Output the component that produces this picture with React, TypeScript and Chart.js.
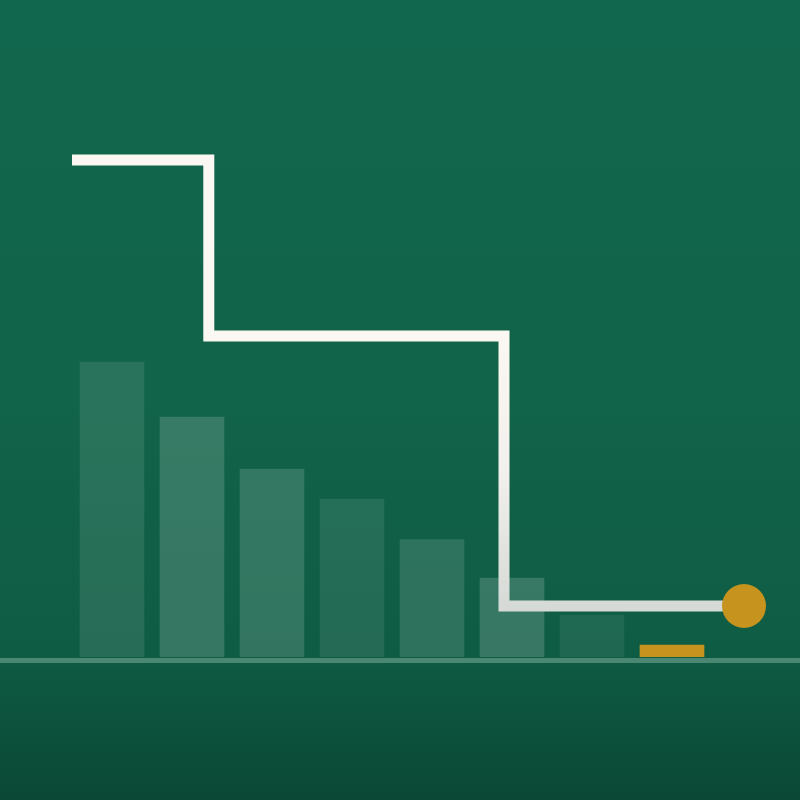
import React, { useEffect, useRef } from "react";
import { Chart, registerables } from "chart.js";

Chart.register(...registerables);

const categories = ["1", "2", "3", "4", "5", "6", "7", "8"];
const barValues = [59, 48, 37.6, 31.6, 23.5, 15.8, 8.4, 2.4];
const barAlphas = [0.1, 0.16, 0.15, 0.09, 0.13, 0.17, 0.07];
const stepX = [-0.5, 1.21, 4.9, 7.9];
const stepY = [99.4, 64.2, 10.2, 10.2];

const GOLD = "#c6931f";

const bgPlugin = {
  id: "bgPlugin",
  beforeDraw(chart: any) {
    const { ctx, width, height } = chart;
    const g = ctx.createLinearGradient(0, 0, 0, height);
    g.addColorStop(0, "#11674d");
    g.addColorStop(0.5, "#116349");
    g.addColorStop(0.82, "#0f5c44");
    g.addColorStop(0.835, "#0e5942");
    g.addColorStop(1, "#0a4835");
    ctx.save();
    ctx.fillStyle = g;
    ctx.fillRect(0, 0, width, height);
    ctx.restore();
  },
  beforeDatasetsDraw(chart: any) {
    const { ctx, width } = chart;
    const y0 = chart.scales.y.getPixelForValue(0);
    ctx.save();
    ctx.fillStyle = "#4a8873";
    ctx.fillRect(0, y0 + 1, width, 5);
    ctx.restore();
  },
};

export default function App() {
  const ref = useRef<HTMLCanvasElement>(null);
  useEffect(() => {
    if (!ref.current) return;
    const chart = new Chart(ref.current, {
      type: "bar",
      data: {
        labels: categories,
        datasets: [
          {
            type: "line",
            data: stepX.map((x, i) => ({ x, y: stepY[i] })),
            stepped: "before",
            borderWidth: 11,
            borderCapStyle: "butt",
            borderJoinStyle: "miter",
            borderColor: (c: any) => {
              const ch = c.chart;
              const ys = ch.scales && ch.scales.y;
              if (!ys || !ch.chartArea) return "#fbf8f3";
              const a = ys.getPixelForValue(stepY[1]);
              const b = ys.getPixelForValue(stepY[2]);
              if (!isFinite(a) || !isFinite(b) || a === b) return "#fbf8f3";
              const g = ch.ctx.createLinearGradient(0, a, 0, b);
              g.addColorStop(0, "#fbf8f3");
              g.addColorStop(0.5, "#f2f0ec");
              g.addColorStop(1, "#d6dad6");
              return g;
            },
            pointRadius: stepX.map((_, i) => (i === stepX.length - 1 ? 22 : 0)),
            pointBackgroundColor: GOLD,
            pointBorderWidth: 0,
            fill: false,
            clip: false as any,
            order: 0,
          } as any,
          {
            type: "bar",
            data: barValues.map((v, i) => ({ x: i, y: v })),
            backgroundColor: barValues.map((_, i) =>
              i === barValues.length - 1
                ? GOLD
                : `rgba(255,255,255,${barAlphas[i]})`
            ),
            borderWidth: 0,
            grouped: false,
            barThickness: 64,
            order: 1,
          } as any,
        ],
      },
      options: {
        responsive: false,
        animation: false,
        layout: { padding: { left: 72, right: 68, top: 157, bottom: 143 } },
        plugins: {
          legend: { display: false },
          tooltip: { enabled: false },
        },
        scales: {
          x: {
            type: "linear",
            display: false,
            offset: false,
            min: -0.5,
            max: 7.75,
            grid: { offset: false },
          },
          y: { display: false, min: 0, max: 100 },
        },
      },
      plugins: [bgPlugin],
    });
    return () => chart.destroy();
  }, []);
  return (
    <div style={{ position: "fixed", left: 0, top: 0, width: 800, height: 800 }}>
      <canvas ref={ref} width={800} height={800} />
    </div>
  );
}
